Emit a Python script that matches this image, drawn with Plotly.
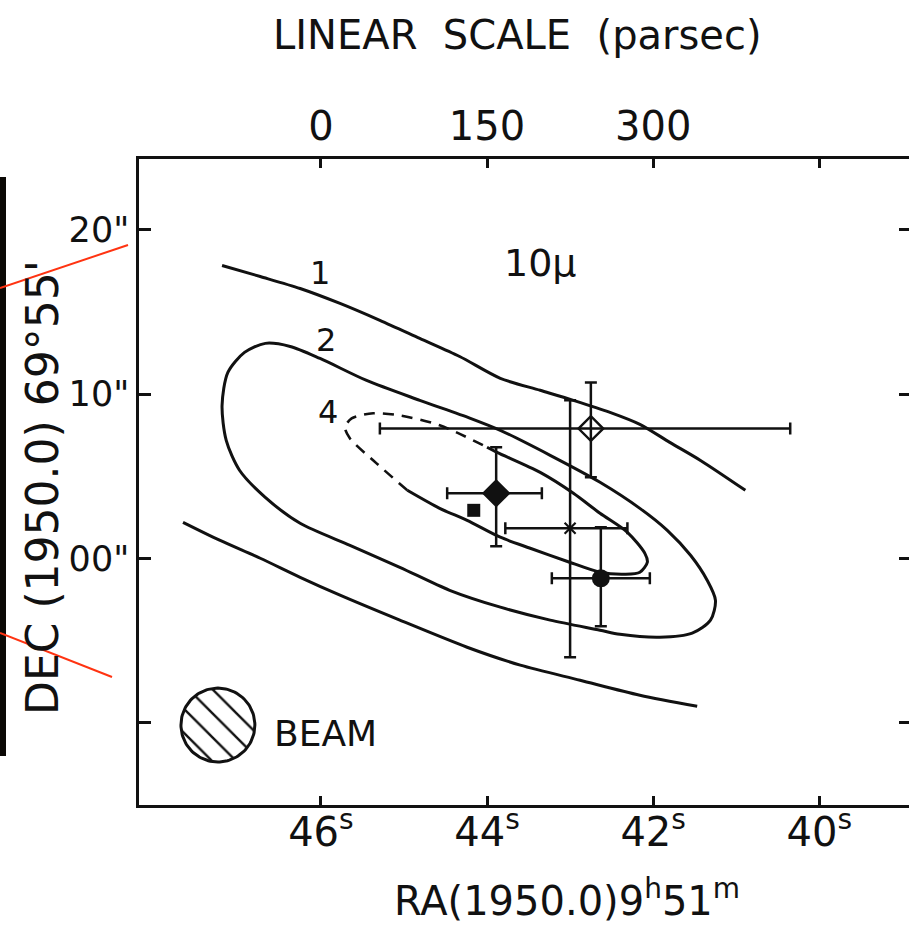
import plotly.graph_objects as go
import numpy as np

# ---------------- data (RA seconds of 9h51m, DEC arcsec offset from 69d55') ----------------
C1_TOP_RA = [47.19, 46.73, 46.25, 45.77, 45.29, 44.81, 44.33, 43.84, 43.36, 42.96, 42.52, 42.16, 41.80, 41.43, 40.89]
C1_TOP_DEC = [17.83, 17.16, 16.43, 15.52, 14.49, 13.39, 12.29, 10.96, 10.23, 9.62, 8.89, 8.16, 7.06, 5.96, 4.14]

C1_BOT_RA = [47.66, 47.22, 46.73, 46.25, 45.77, 45.05, 44.24, 43.60, 42.88, 42.16, 41.47]
C1_BOT_DEC = [2.19, 1.10, 0.00, -1.16, -2.25, -3.77, -5.42, -6.51, -7.43, -8.34, -9.01]

C2_RA = [47.12, 46.92, 46.67, 46.37, 46.01, 45.45, 44.81, 44.20, 43.84, 43.24, 42.64, 42.16, 41.83,
         41.55, 41.35, 41.25, 41.31, 41.53, 41.92, 42.40, 42.64, 43.24, 43.84, 44.45, 45.05, 45.65,
         46.25, 46.67, 46.98, 47.14, 47.19, 47.12]
C2_DEC = [11.32, 12.54, 13.09, 12.90, 12.17, 10.83, 9.62, 8.52, 7.79, 6.27, 4.63, 3.04, 1.70,
          0.18, -1.34, -2.56, -3.77, -4.56, -4.81, -4.63, -4.38, -3.77, -2.98, -1.95, -0.55, 0.79,
          2.13, 3.71, 5.36, 7.18, 9.31, 11.32]

C4_SOLID_RA = [44.00, 43.88, 43.36, 42.96, 42.64, 42.31, 42.10, 42.07, 42.16, 42.34, 42.64, 43.04,
               43.48, 43.84, 44.24, 44.57, 44.96]
C4_SOLID_DEC = [6.76, 6.45, 5.23, 3.96, 2.74, 1.58, 0.30, -0.24, -0.85, -0.97, -0.85, -0.18,
                0.61, 1.28, 2.31, 3.04, 4.14]
C4_DASH_RA = [44.96, 45.33, 45.65, 45.71, 45.63, 45.37, 45.05, 44.57, 44.00]
C4_DASH_DEC = [4.14, 5.78, 7.30, 7.97, 8.52, 8.83, 8.70, 8.10, 6.76]

SRC_NAMES = ["open diamond", "filled diamond", "square", "cross", "circle"]
SRC_RA = [42.75, 43.89, 44.16, 43.00, 42.63]
SRC_DEC = [7.90, 3.96, 2.92, 1.83, -1.22]
SRC_ERR_RA_PLUS = [2.54, 0.59, 0.0, 0.78, 0.59]
SRC_ERR_RA_MINUS = [2.40, 0.55, 0.0, 0.69, 0.59]
SRC_ERR_DEC_PLUS = [2.81, 2.80, 0.0, 7.79, 3.11]
SRC_ERR_DEC_MINUS = [2.97, 3.23, 0.0, 7.86, 2.92]

BEAM_RA = 47.24
BEAM_DEC = -10.16
BEAM_RADIUS_DEC = 2.25
BEAM_RADIUS_RA = 0.445

RA_TICKS = [46, 44, 42, 40]
RA_TICK_TEXT = ["46<sup>s</sup>", "44<sup>s</sup>", "42<sup>s</sup>", "40<sup>s</sup>"]
PC_TICK_TEXT = ["0", "150", "300", ""]
DEC_TICKS = [20, 10, 0, -10]
DEC_TICK_TEXT = ['20"', '10"', '00"', '']

RA_RANGE = [48.19, 38.92]
DEC_RANGE = [-15.03, 24.32]

FONT = "DejaVu Sans"
BLACK = "#111111"

fig = go.Figure()

line_style = dict(color=BLACK, width=3, shape="spline", smoothing=0.8)

fig.add_trace(go.Scatter(x=C1_TOP_RA, y=C1_TOP_DEC, mode="lines", line=line_style, hoverinfo="skip"))
fig.add_trace(go.Scatter(x=C1_BOT_RA, y=C1_BOT_DEC, mode="lines", line=line_style, hoverinfo="skip"))
fig.add_trace(go.Scatter(x=C2_RA, y=C2_DEC, mode="lines", line=line_style, hoverinfo="skip"))
fig.add_trace(go.Scatter(x=C4_SOLID_RA, y=C4_SOLID_DEC, mode="lines", line=line_style, hoverinfo="skip"))
fig.add_trace(go.Scatter(x=C4_DASH_RA, y=C4_DASH_DEC, mode="lines",
                         line=dict(color=BLACK, width=2.6, dash="11px,8px", shape="spline", smoothing=0.8),
                         hoverinfo="skip"))

# beam: hatched circle
t = np.linspace(0, 2 * np.pi, 121)
fig.add_trace(go.Scatter(
    x=BEAM_RA + BEAM_RADIUS_RA * np.cos(t), y=BEAM_DEC + BEAM_RADIUS_DEC * np.sin(t),
    mode="lines", fill="toself", line=dict(color=BLACK, width=3),
    fillcolor="white",
    fillpattern=dict(shape="\\", size=17, solidity=0.14, fgcolor=BLACK, fgopacity=1,
                     bgcolor="white"),
    hoverinfo="skip"))

markers = [
    dict(symbol="diamond-open", size=19, color=BLACK, line=dict(width=2.4, color=BLACK)),
    dict(symbol="diamond", size=22, color=BLACK),
    dict(symbol="square", size=13, color=BLACK),
    dict(symbol="x-thin-open", size=11, color=BLACK, line=dict(width=2.2, color=BLACK)),
    dict(symbol="circle", size=18, color=BLACK),
]
for i in range(len(SRC_NAMES)):
    has_err = SRC_ERR_RA_PLUS[i] > 0
    fig.add_trace(go.Scatter(
        x=[SRC_RA[i]], y=[SRC_DEC[i]], mode="markers", name=SRC_NAMES[i],
        marker=markers[i],
        error_x=dict(type="data", symmetric=False, array=[SRC_ERR_RA_PLUS[i]],
                     arrayminus=[SRC_ERR_RA_MINUS[i]], color=BLACK, thickness=2.5, width=6,
                     visible=has_err),
        error_y=dict(type="data", symmetric=False, array=[SRC_ERR_DEC_PLUS[i]],
                     arrayminus=[SRC_ERR_DEC_MINUS[i]], color=BLACK, thickness=2.5, width=6,
                     visible=has_err),
    ))

# invisible trace to anchor secondary axes
fig.add_trace(go.Scatter(x=[RA_TICKS[0]], y=[DEC_TICKS[0]], xaxis="x2", yaxis="y2",
                         mode="markers", marker=dict(opacity=0), hoverinfo="skip"))

axis_common = dict(showgrid=False, zeroline=False, ticks="inside", tickcolor=BLACK, tickwidth=2.5,
                   linecolor=BLACK, linewidth=2.5)

fig.update_layout(
    width=909, height=928,
    margin=dict(l=139, r=0, t=159, b=123),
    plot_bgcolor="white", paper_bgcolor="white",
    showlegend=False,
    font=dict(family=FONT, color=BLACK),
    xaxis=dict(range=RA_RANGE, tickvals=RA_TICKS, ticktext=RA_TICK_TEXT, ticklen=9,
               ticklabelstandoff=-10,
               showline=True, tickfont=dict(size=40, family=FONT, color=BLACK), **axis_common),
    xaxis2=dict(range=RA_RANGE, overlaying="x", side="top", anchor="y", tickvals=RA_TICKS,
                ticktext=PC_TICK_TEXT, ticklen=9, showline=True,
                tickfont=dict(size=40, family=FONT, color=BLACK), **axis_common),
    yaxis=dict(range=DEC_RANGE, tickvals=DEC_TICKS, ticktext=DEC_TICK_TEXT, ticklen=12,
               showline=True, tickfont=dict(size=35, family=FONT, color=BLACK), **axis_common),
    yaxis2=dict(range=DEC_RANGE, overlaying="y", side="right", anchor="x", tickvals=DEC_TICKS,
                ticklen=10, showticklabels=False, showline=False, showgrid=False, zeroline=False,
                ticks="inside", tickcolor=BLACK, tickwidth=2.5),
)

def ann(text, x, y, size, xref="x", yref="y", angle=0):
    fig.add_annotation(text=text, x=x, y=y, xref=xref, yref=yref, showarrow=False,
                       textangle=angle, font=dict(size=size, family=FONT, color=BLACK),
                       xanchor="center", yanchor="middle")

ann("1", 46.01, 17.35, 32)
ann("2", 45.94, 13.27, 32)
ann("4", 45.92, 8.89, 32)
ann("10\u03bc", 43.36, 18.0, 38)
ann("BEAM", 45.95, -10.65, 36)

# titles (paper coords)
def px_x(p):
    return (p - 139) / 770.0

def px_y(p):
    return (805 - p) / 646.0

ann("LINEAR  SCALE  (parsec)", px_x(517), px_y(35), 40, "paper", "paper")
ann("RA(1950.0)9<sup>h</sup>51<sup>m</sup>", px_x(567), px_y(898), 40, "paper", "paper")
ann("DEC (1950.0) 69\u00b055'", px_x(42), px_y(488), 44, "paper", "paper", angle=-90)

# scan artefacts at the left margin
fig.add_shape(type="rect", xref="paper", yref="paper", x0=px_x(0), x1=px_x(6),
              y0=px_y(756), y1=px_y(177), fillcolor="#0b0805", line=dict(width=0))
fig.add_shape(type="line", xref="paper", yref="paper", x0=px_x(0), y0=px_y(288),
              x1=px_x(128), y1=px_y(245), line=dict(color="#ff3311", width=2))
fig.add_shape(type="line", xref="paper", yref="paper", x0=px_x(0), y0=px_y(633),
              x1=px_x(112), y1=px_y(677), line=dict(color="#ff3311", width=2))

fig.write_html("out.html")
